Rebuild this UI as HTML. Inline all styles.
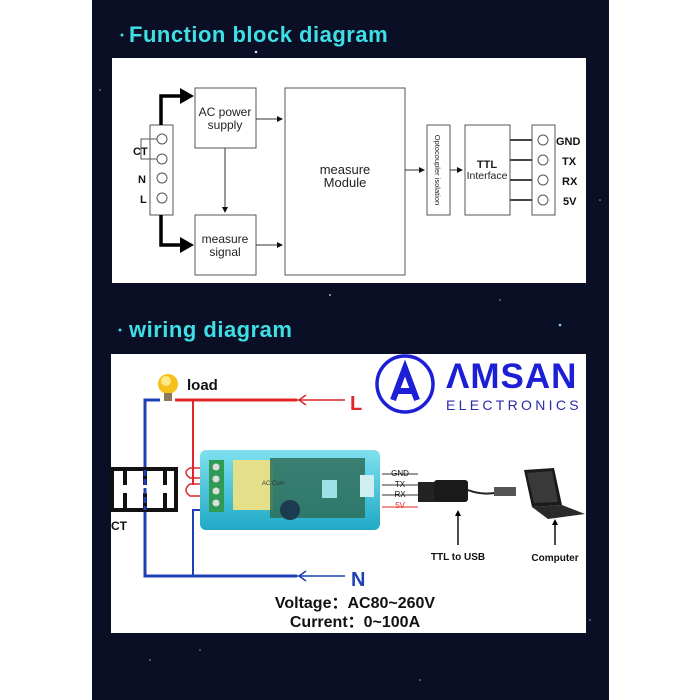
<!DOCTYPE html>
<html><head><style>
html,body{margin:0;padding:0;background:#fff;width:700px;height:700px;overflow:hidden}
svg{display:block}
text{font-family:"Liberation Sans",sans-serif}
</style></head><body>
<svg width="700" height="700" viewBox="0 0 700 700" xmlns="http://www.w3.org/2000/svg">
<defs>
<marker id="a" markerWidth="6" markerHeight="6" refX="5" refY="3" orient="auto"><path d="M0,0 L6,3 L0,6z" fill="#111"/></marker>
<marker id="b" markerWidth="4" markerHeight="4" refX="2" refY="2" orient="auto" markerUnits="strokeWidth"><path d="M0,0 L4,2 L0,4z" fill="#000"/></marker>
<linearGradient id="cy" x1="0" x2="0" y1="0" y2="1"><stop offset="0" stop-color="#7fe0ee"/><stop offset="1" stop-color="#1fa9c6"/></linearGradient>
</defs>
<rect x="0" y="0" width="700" height="700" fill="#fff"/>
<rect x="92" y="0" width="517" height="700" fill="#0a0f26"/>
<g fill="#9ab">
<circle cx="100" cy="90" r="0.8"/><circle cx="256" cy="52" r="1.3" fill="#bdf"/><circle cx="330" cy="295" r="1"/><circle cx="560" cy="325" r="1.3" fill="#8df"/><circle cx="600" cy="200" r="0.8"/><circle cx="150" cy="660" r="0.8"/><circle cx="420" cy="680" r="0.8"/><circle cx="500" cy="300" r="0.8"/><circle cx="200" cy="650" r="0.7"/><circle cx="590" cy="620" r="0.8"/>
</g>
<circle cx="122" cy="35" r="1.5" fill="#3ee0e6"/>
<text x="129" y="42" font-size="22" fill="#3ee0e6" font-weight="bold" letter-spacing="0.5">Function block diagram</text>
<circle cx="120" cy="330" r="1.5" fill="#3ee0e6"/>
<text x="129" y="337" font-size="22" fill="#3ee0e6" font-weight="bold" letter-spacing="0.5">wiring diagram</text>

<!-- panel 1 -->
<rect x="112" y="58" width="474" height="225" fill="#fff"/>
<g stroke="#555" fill="none" stroke-width="1">
<rect x="195" y="88" width="61" height="60"/>
<rect x="285" y="88" width="120" height="187"/>
<rect x="195" y="215" width="61" height="60"/>
<rect x="150" y="125" width="23" height="90"/>
<rect x="427" y="125" width="23" height="90"/>
<rect x="465" y="125" width="45" height="90"/>
<rect x="532" y="125" width="23" height="90"/>
<circle cx="162" cy="139" r="5"/><circle cx="162" cy="159" r="5"/><circle cx="162" cy="178" r="5"/><circle cx="162" cy="198" r="5"/>
<circle cx="543" cy="140" r="5"/><circle cx="543" cy="160" r="5"/><circle cx="543" cy="180" r="5"/><circle cx="543" cy="200" r="5"/>
<path d="M157,139 H141 V159 H157"/>
</g>
<g stroke="#333" stroke-width="1" fill="none">
<line x1="256" y1="119" x2="282" y2="119" marker-end="url(#a)"/>
<line x1="256" y1="245" x2="282" y2="245" marker-end="url(#a)"/>
<line x1="225" y1="148" x2="225" y2="212" marker-end="url(#a)"/>
<line x1="405" y1="170" x2="424" y2="170" marker-end="url(#a)"/>
<line x1="450" y1="170" x2="462" y2="170" marker-end="url(#a)"/>
</g>
<g stroke="#444" stroke-width="2"><line x1="510" y1="140" x2="532" y2="140"/><line x1="510" y1="160" x2="532" y2="160"/><line x1="510" y1="180" x2="532" y2="180"/><line x1="510" y1="200" x2="532" y2="200"/></g>
<path d="M161,125 V96 H182" stroke="#000" stroke-width="3.5" fill="none"/>
<path d="M180,88 L194,96 L180,104z" fill="#000"/>
<path d="M161,215 V245 H182" stroke="#000" stroke-width="3.5" fill="none"/>
<path d="M180,237 L194,245 L180,253z" fill="#000"/>
<g font-size="12" fill="#222" text-anchor="middle">
<text x="225" y="116">AC power</text><text x="225" y="129">supply</text>
<text x="225" y="243">measure</text><text x="225" y="256">signal</text>
<text x="345" y="174" font-size="13">measure</text><text x="345" y="187" font-size="13">Module</text>
<text x="487" y="168" font-weight="bold" font-size="11">TTL</text><text x="487" y="179" font-size="10.5">Interface</text>
</g>
<text transform="translate(435,170) rotate(90)" font-size="7.5" fill="#222" text-anchor="middle">Optocoupler isolation</text>
<g font-size="11" font-weight="bold" fill="#111">
<text x="133" y="155">CT</text><text x="138" y="183">N</text><text x="140" y="203">L</text>
<text x="556" y="145">GND</text><text x="562" y="165">TX</text><text x="562" y="185">RX</text><text x="563" y="205">5V</text>
</g>

<!-- panel 2 -->
<rect x="111" y="354" width="475" height="279" fill="#fff"/>
<!-- wires -->
<g fill="none" stroke-width="3">
<path d="M175,400 H297" stroke="#e0262a"/>
<path d="M193,400 V470 M193,485 V470" stroke="#e0262a" stroke-width="2"/>
<path d="M160,400 H145 V576 H297" stroke="#1f3fb4"/>
<path d="M193,576 V510 H200" stroke="#1f3fb4" stroke-width="2"/>
</g>
<g stroke="#e0262a" stroke-width="1.5" fill="none"><line x1="297" y1="400" x2="345" y2="400"/><path d="M306,395 L299,400 L306,405"/></g>
<g stroke="#1f3fb4" stroke-width="1.5" fill="none"><line x1="297" y1="576" x2="345" y2="576"/><path d="M306,571 L299,576 L306,581"/></g>
<path d="M200,468 H190 Q182,472 190,478 H200 M200,484 H190 Q182,490 190,496 H200" stroke="#e0262a" stroke-width="1.5" fill="none"/>
<text x="350" y="410" font-size="20" font-weight="bold" fill="#e0262a">L</text>
<text x="351" y="586" font-size="20" font-weight="bold" fill="#1f3fb4">N</text>
<!-- bulb -->
<circle cx="168" cy="384" r="10" fill="#f6c21a"/>
<circle cx="166" cy="381" r="5" fill="#fde98a"/>
<rect x="164" y="393" width="8" height="8" fill="#8a7a5a"/>
<text x="187" y="390" font-size="15" font-weight="bold" fill="#111">load</text>
<!-- CT -->
<rect x="112" y="469" width="64" height="41" fill="#fff" stroke="#111" stroke-width="4"/>
<g stroke="#111" stroke-width="4"><line x1="125" y1="470" x2="125" y2="485"/><line x1="125" y1="493" x2="125" y2="509"/><line x1="145" y1="470" x2="145" y2="485"/><line x1="145" y1="493" x2="145" y2="509"/><line x1="165" y1="470" x2="165" y2="485"/><line x1="165" y1="493" x2="165" y2="509"/></g>
<line x1="145" y1="470" x2="145" y2="510" stroke="#1f3fb4" stroke-width="3" stroke-dasharray="6,3"/>
<text x="111" y="530" font-size="12" font-weight="bold" fill="#111">CT</text>
<!-- module -->
<rect x="200" y="450" width="180" height="80" rx="6" fill="url(#cy)"/>
<rect x="209" y="460" width="15" height="52" fill="#2f9a55"/>
<g fill="#ddd"><circle cx="216" cy="467" r="3.5"/><circle cx="216" cy="479" r="3.5"/><circle cx="216" cy="491" r="3.5"/><circle cx="216" cy="503" r="3.5"/></g>
<rect x="233" y="460" width="40" height="50" fill="#e4e08a"/>
<rect x="270" y="458" width="95" height="60" fill="#2f6e5a" opacity="0.85"/>
<circle cx="290" cy="510" r="10" fill="#1c3b50"/>
<rect x="322" y="480" width="15" height="18" fill="#9ee0e8"/>
<rect x="360" y="475" width="14" height="22" fill="#cfeef2"/>
<text x="262" y="485" font-size="6" fill="#333">AC Com</text>
<!-- TTL lines -->
<g stroke="#333" stroke-width="1"><line x1="382" y1="474" x2="418" y2="474"/><line x1="382" y1="485" x2="418" y2="485"/><line x1="382" y1="495" x2="418" y2="495"/></g>
<line x1="382" y1="507" x2="418" y2="507" stroke="#e0262a" stroke-width="1"/>
<g font-size="8" text-anchor="middle" fill="#111"><text x="400" y="476">GND</text><text x="400" y="487">TX</text><text x="400" y="497">RX</text><text x="400" y="508" fill="#e0262a">5V</text></g>
<!-- USB adapter -->
<rect x="418" y="482" width="18" height="20" fill="#222"/>
<rect x="434" y="480" width="34" height="22" rx="3" fill="#1a1a1a"/>
<path d="M468,490 Q480,495 495,493" stroke="#222" stroke-width="2" fill="none"/>
<rect x="494" y="487" width="22" height="9" fill="#555"/>
<line x1="458" y1="545" x2="458" y2="513" stroke="#111" stroke-width="1.5" marker-end="url(#b)"/>
<text x="458" y="560" font-size="10" font-weight="bold" text-anchor="middle" fill="#111">TTL to USB</text>
<!-- laptop -->
<path d="M524,470 L554,468 L562,505 L532,507z" fill="#1a1a1a"/>
<path d="M527,473 L552,471 L558,502 L534,503z" fill="#3a3a3a"/>
<path d="M532,507 L562,505 L585,514 L548,519z" fill="#2a2a2a"/>
<line x1="555" y1="545" x2="555" y2="522" stroke="#111" stroke-width="1.5" marker-end="url(#b)"/>
<text x="555" y="561" font-size="10" font-weight="bold" text-anchor="middle" fill="#111">Computer</text>
<!-- logo -->
<circle cx="405" cy="384" r="28" fill="none" stroke="#1c1fd6" stroke-width="3.5"/>
<path d="M393,400 L405,368 L417,400 M397,391 H413" stroke="#1c1fd6" stroke-width="6" fill="none"/>
<text x="446" y="388" font-size="35" font-weight="bold" fill="#1c1fd6" letter-spacing="1">ΛMSAN</text>
<text x="446" y="410" font-size="14" fill="#2a2aa6" letter-spacing="3.3">ELECTRONICS</text>
<!-- spec -->
<text x="355" y="608" font-size="16" font-weight="bold" text-anchor="middle" fill="#111">Voltage：AC80~260V</text>
<text x="355" y="627" font-size="16" font-weight="bold" text-anchor="middle" fill="#111">Current：0~100A</text>
</svg>
</body></html>
